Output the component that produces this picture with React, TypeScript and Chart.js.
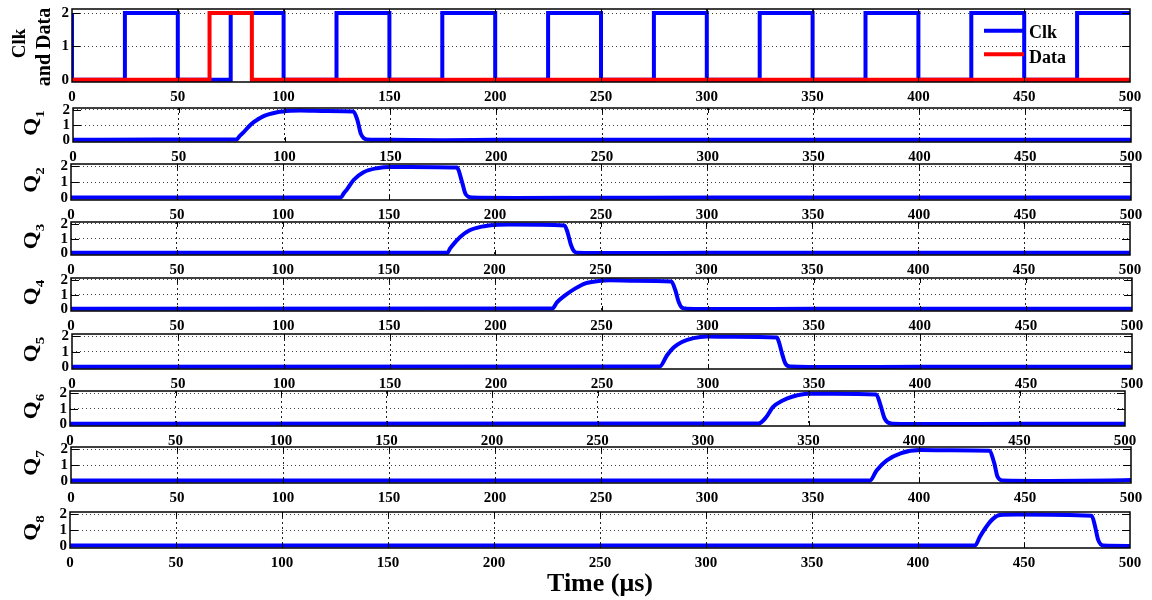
import React, { useEffect, useRef } from "react";
import { Chart, registerables } from "chart.js";

Chart.register(...registerables);

// ---------------- data ----------------
const X_TICKS = [0, 50, 100, 150, 200, 250, 300, 350, 400, 450, 500];
const Y_TICKS = [0, 1, 2];

const SERIES_LABELS = ["Clk", "Data"];
const TOP_YLABEL = ["Clk", "and Data"];
const Q_SUBS = ["1", "2", "3", "4", "5", "6", "7", "8"];
const X_TITLE = "Time (\u03bcs)";

// clock: times of each level change and the level after it (step-before)
const CLK_T = [0, 0, 25, 50, 75, 100, 125, 150, 175, 200, 225, 250, 275, 300, 325, 350, 375, 400, 425, 450, 475, 500];
const CLK_V = [2, 0, 2, 0, 2, 0, 2, 0, 2, 0, 2, 0, 2, 0, 2, 0, 2, 0, 2, 0, 2, 2];

const DATA_T = [0, 65, 85, 500];
const DATA_V = [0, 2, 0, 0];

const Q1_T = [0, 40, 77.3, 78.8, 80.7, 83, 85.4, 90.1, 96.5, 102.8, 107.5, 120, 132.5, 134.4, 136, 137.5, 139, 150, 175, 200, 250, 500];
const Q1_V = [0.05, 0.06, 0.07, 0.3, 0.55, 0.9, 1.2, 1.6, 1.85, 1.95, 1.97, 1.94, 1.9, 1.33, 0.45, 0.15, 0.07, 0.04, 0.02, 0.04, 0.05, 0.05];

const Q2_T = [0, 127.4, 128.6, 130.2, 133.3, 138, 144.3, 150.6, 160, 182, 184.4, 186, 187.5, 189, 210, 250, 300, 500];
const Q2_V = [0.05, 0.06, 0.3, 0.56, 1.14, 1.62, 1.87, 1.95, 1.95, 1.91, 1.04, 0.3, 0.1, 0.05, 0.03, 0.04, 0.05, 0.05];

const Q3_T = [0, 177.8, 179, 181, 184, 188, 194, 200, 207, 233, 234.5, 236, 237.5, 239, 260, 300, 500];
const Q3_V = [0.05, 0.06, 0.35, 0.7, 1.15, 1.55, 1.82, 1.93, 1.96, 1.9, 1.4, 0.6, 0.15, 0.06, 0.03, 0.05, 0.05];

const Q4_T = [0, 226.8, 229.1, 233, 237.7, 242.4, 248.7, 254, 265, 282.9, 284.8, 286.4, 288, 290, 310, 350, 500];
const Q4_V = [0.05, 0.07, 0.5, 0.97, 1.43, 1.77, 1.93, 1.97, 1.95, 1.9, 1.3, 0.5, 0.12, 0.06, 0.03, 0.05, 0.05];

const Q5_T = [0, 277.2, 280.7, 283.8, 287.7, 293.2, 299.5, 312, 332.5, 333.5, 334.9, 336.5, 338.8, 360, 400, 500];
const Q5_V = [0.05, 0.06, 0.78, 1.27, 1.62, 1.87, 1.97, 1.95, 1.9, 1.6, 0.9, 0.25, 0.06, 0.02, 0.05, 0.05];

const Q6_T = [0, 326.4, 330, 333.1, 337.8, 342.6, 349.7, 361.5, 382.1, 384.4, 386, 387.6, 390, 410, 450, 500];
const Q6_V = [0.05, 0.06, 0.47, 1.1, 1.53, 1.78, 1.95, 1.95, 1.9, 1.1, 0.4, 0.12, 0.05, 0.02, 0.05, 0.05];

const Q7_T = [0, 376.9, 380, 384.8, 391.3, 400.8, 415, 433.1, 435.5, 437, 439.4, 460, 490, 500];
const Q7_V = [0.05, 0.06, 0.68, 1.3, 1.74, 1.94, 1.93, 1.9, 1.13, 0.3, 0.05, 0.02, 0.05, 0.08];

const Q8_T = [0, 426.9, 429.2, 432.4, 435.5, 438.7, 446.5, 481.9, 483.5, 485, 487.4, 500];
const Q8_V = [0.05, 0.06, 0.6, 1.25, 1.72, 1.94, 1.97, 1.9, 1.25, 0.4, 0.05, 0.03];

const Q_SERIES: [number[], number[]][] = [
  [Q1_T, Q1_V], [Q2_T, Q2_V], [Q3_T, Q3_V], [Q4_T, Q4_V],
  [Q5_T, Q5_V], [Q6_T, Q6_V], [Q7_T, Q7_V], [Q8_T, Q8_V],
];

// ---------------- layout / style ----------------
const W = 1152;
const H = 600;
const PAD_T = 12;
const XH = 24;
const PANELS = [
  { l: 72, r: 1130, t: 9, b: 82 },
  { l: 73, r: 1131, t: 108, b: 142 },
  { l: 71, r: 1131, t: 164, b: 200 },
  { l: 71, r: 1130, t: 222, b: 255 },
  { l: 71, r: 1132, t: 278, b: 311 },
  { l: 72, r: 1132, t: 334, b: 369 },
  { l: 70, r: 1125, t: 391, b: 426 },
  { l: 71, r: 1131, t: 447, b: 483 },
  { l: 70, r: 1130, t: 512, b: 548 },
];
const FAMILY = '"Liberation Serif", "Times New Roman", serif';
const BLUE = "#0000ff";
const RED = "#ff0000";

function pts(t: number[], v: number[]) {
  return t.map((x, i) => ({ x, y: v[i] }));
}

function decorPlugin(index: number, isLast: boolean) {
  return {
    id: "decor" + index,
    afterDraw(chart: any) {
      const { ctx, chartArea: a, scales } = chart;
      const xs = scales.x;
      const ys = scales.y;
      ctx.save();
      // inner tick marks
      ctx.strokeStyle = "#000";
      ctx.lineWidth = 1;
      ctx.beginPath();
      for (const v of X_TICKS) {
        if (v <= xs.min || v >= xs.max) continue;
        const px = Math.round(xs.getPixelForValue(v)) + 0.5;
        ctx.moveTo(px, a.top);
        ctx.lineTo(px, a.top + 5);
        ctx.moveTo(px, a.bottom);
        ctx.lineTo(px, a.bottom - 5);
      }
      for (const v of Y_TICKS) {
        if (v <= 0) continue;
        const py = Math.round(ys.getPixelForValue(v)) + 0.5;
        ctx.moveTo(a.left, py);
        ctx.lineTo(a.left + 8, py);
        ctx.moveTo(a.right, py);
        ctx.lineTo(a.right - 8, py);
      }
      ctx.stroke();
      // frame
      ctx.lineWidth = 1.5;
      ctx.strokeRect(a.left, a.top, a.right - a.left, a.bottom - a.top);

      ctx.fillStyle = "#000";
      const mid = (a.top + a.bottom) / 2;
      if (index === 0) {
        // y label, two lines
        ctx.save();
        ctx.translate(25, mid - 2);
        ctx.rotate(-Math.PI / 2);
        ctx.textAlign = "center";
        ctx.textBaseline = "alphabetic";
        ctx.font = `bold 19px ${FAMILY}`;
        ctx.fillText(TOP_YLABEL[0], 0, 0);
        ctx.restore();
        ctx.save();
        ctx.translate(50, mid + 1.5);
        ctx.rotate(-Math.PI / 2);
        ctx.textAlign = "center";
        ctx.textBaseline = "alphabetic";
        ctx.font = `bold 20px ${FAMILY}`;
        ctx.fillText(TOP_YLABEL[1], 0, 0);
        ctx.restore();
        // legend
        const ds = chart.data.datasets;
        const lineY = [a.top + 21.7, a.top + 45.3];
        const textY = [a.top + 28.5, a.top + 53.5];
        ds.forEach((d: any, k: number) => {
          ctx.strokeStyle = d.borderColor;
          ctx.lineWidth = 4;
          ctx.beginPath();
          ctx.moveTo(984, lineY[k]);
          ctx.lineTo(1024, lineY[k]);
          ctx.stroke();
          ctx.font = `bold 18px ${FAMILY}`;
          ctx.textAlign = "left";
          ctx.textBaseline = "alphabetic";
          ctx.fillText(d.label, 1029, textY[k]);
        });
      } else {
        const sub = Q_SUBS[index - 1];
        const sq = 0.8;
        ctx.save();
        ctx.translate(37, mid - 2);
        ctx.rotate(-Math.PI / 2);
        ctx.scale(1, sq);
        ctx.textAlign = "left";
        ctx.textBaseline = "alphabetic";
        ctx.font = `bold 23px ${FAMILY}`;
        const wQ = ctx.measureText("Q").width;
        ctx.font = `bold 15px ${FAMILY}`;
        const wS = ctx.measureText(sub).width;
        const x0 = -(wQ + wS) / 2;
        ctx.font = `bold 23px ${FAMILY}`;
        ctx.fillText("Q", x0, 0);
        ctx.font = `bold 15px ${FAMILY}`;
        ctx.fillText(sub, x0 + wQ, 7 / sq);
        ctx.restore();
      }
      if (isLast) {
        ctx.font = `bold 26px ${FAMILY}`;
        ctx.textAlign = "center";
        ctx.textBaseline = "alphabetic";
        ctx.fillStyle = "#000";
        ctx.fillText(X_TITLE, (a.left + a.right) / 2, a.bottom + 42.5);
      }
      ctx.restore();
    },
  };
}

function buildConfig(index: number): any {
  const p = PANELS[index];
  const isLast = index === PANELS.length - 1;
  const xh = isLast ? H - p.b : XH;
  const isTop = index === 0;
  const yMin = isTop ? -0.07 : -0.1;
  const yMax = isTop ? 2.12 : 2.13;

  const datasets = isTop
    ? [
        {
          label: SERIES_LABELS[0],
          data: pts(CLK_T, CLK_V),
          borderColor: BLUE,
          borderWidth: 4,
          pointRadius: 0,
          stepped: "before",
          fill: false,
          order: 1,
          clip: 0,
        },
        {
          label: SERIES_LABELS[1],
          data: pts(DATA_T, DATA_V),
          borderColor: RED,
          borderWidth: 4,
          pointRadius: 0,
          stepped: "before",
          fill: false,
          order: 0,
          clip: 0,
        },
      ]
    : [
        {
          label: "Q" + Q_SUBS[index - 1],
          data: pts(Q_SERIES[index - 1][0], Q_SERIES[index - 1][1]),
          borderColor: BLUE,
          borderWidth: 4,
          pointRadius: 0,
          cubicInterpolationMode: "monotone",
          fill: false,
          clip: 0,
        },
      ];

  const tickFont = { family: FAMILY, size: 15, weight: "bold", lineHeight: 1 };

  return {
    type: "line",
    data: { datasets },
    options: {
      animation: false,
      responsive: false,
      maintainAspectRatio: false,
      events: [],
      layout: { padding: { top: PAD_T, left: 0, right: W - p.r, bottom: 0 } },
      plugins: { legend: { display: false }, tooltip: { enabled: false }, title: { display: false } },
      scales: {
        x: {
          type: "linear",
          min: 0,
          max: 500,
          afterBuildTicks: (s: any) => {
            s.ticks = X_TICKS.map((v) => ({ value: v }));
          },
          afterFit: (s: any) => {
            s.height = xh;
          },
          ticks: { autoSkip: false, maxRotation: 0, minRotation: 0, padding: 8, color: "#000", font: tickFont },
          grid: {
            drawTicks: false,
            lineWidth: 1,
            color: (c: any) => (c.tick && c.tick.value > 0 && c.tick.value < 500 ? "#222" : "rgba(0,0,0,0)"),
          },
          border: { display: false, dash: [2, 3] },
        },
        y: {
          type: "linear",
          min: yMin,
          max: yMax,
          afterBuildTicks: (s: any) => {
            s.ticks = Y_TICKS.map((v) => ({ value: v }));
          },
          afterFit: (s: any) => {
            s.width = p.l;
          },
          ticks: { autoSkip: false, padding: 3, color: "#000", font: tickFont },
          grid: {
            drawTicks: false,
            lineWidth: 1,
            color: (c: any) => (c.tick && c.tick.value > 0 ? "#444" : "rgba(0,0,0,0)"),
          },
          border: { display: false, dash: [1, 3] },
        },
      },
    },
    plugins: [decorPlugin(index, isLast)],
  };
}

export default function App() {
  const refs = useRef<(HTMLCanvasElement | null)[]>([]);
  useEffect(() => {
    const charts = PANELS.map((_, i) => new Chart(refs.current[i] as HTMLCanvasElement, buildConfig(i)));
    return () => charts.forEach((c) => c.destroy());
  }, []);
  return (
    <div style={{ position: "absolute", left: 0, top: 0, width: W, height: H, background: "#fff", overflow: "hidden" }}>
      {PANELS.map((p, i) => {
        const isLast = i === PANELS.length - 1;
        const h = p.b - p.t + PAD_T + (isLast ? H - p.b : XH);
        return (
          <canvas
            key={i}
            ref={(el) => {
              refs.current[i] = el;
            }}
            width={W}
            height={h}
            style={{ position: "absolute", left: 0, top: p.t - PAD_T, width: W, height: h, display: "block" }}
          />
        );
      })}
    </div>
  );
}
